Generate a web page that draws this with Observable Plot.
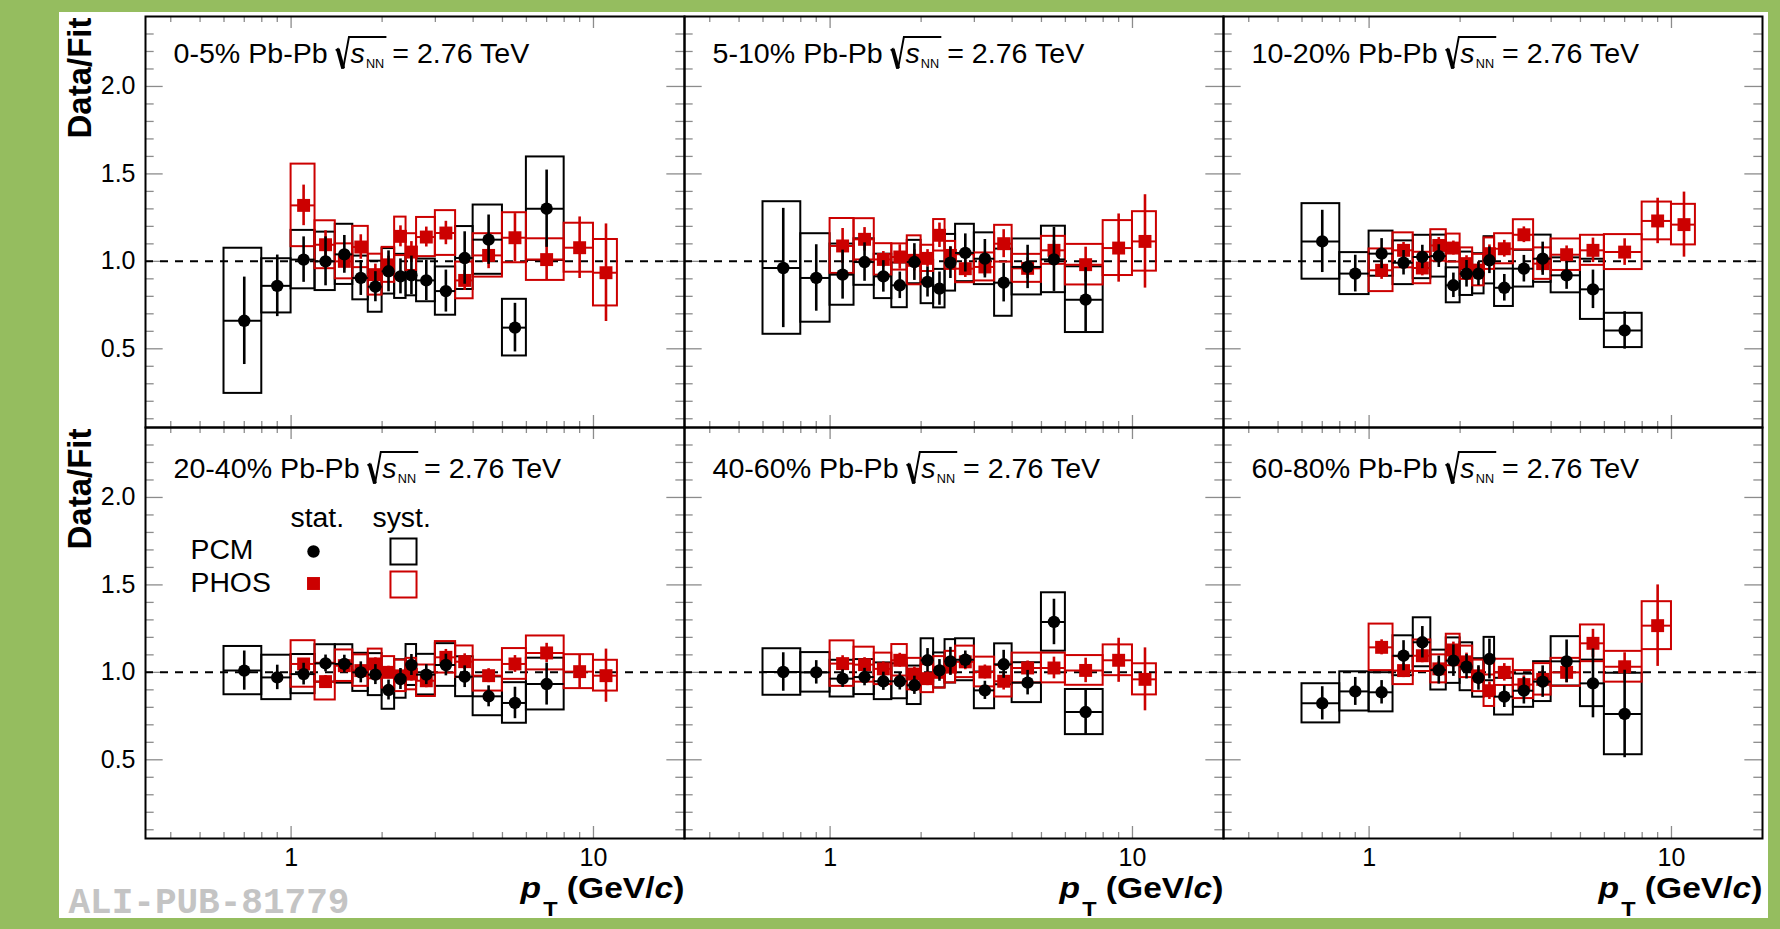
<!DOCTYPE html>
<html><head><meta charset="utf-8">
<script src="https://cdn.jsdelivr.net/npm/d3@7"></script>
<script src="https://cdn.jsdelivr.net/npm/@observablehq/plot@0.6"></script>
<style>
html,body{margin:0;padding:0;background:#95bd5f;width:1780px;height:929px;overflow:hidden;}
#panel{position:absolute;left:59px;top:12px;width:1709px;height:906px;background:#fff;}
</style></head><body><div id="panel"></div>
<script>
// ---------------- data ----------------
const centralities = ["0-5%", "5-10%", "10-20%", "20-40%", "40-60%", "60-80%"];
const systemLabel = "Pb-Pb";
const energyLabel = "= 2.76 TeV";

const pcmBinLow  = [0.6, 0.8, 1.0, 1.2, 1.4, 1.6, 1.8, 2.0, 2.2, 2.4, 2.6, 3.0, 3.5, 4.0, 5.0, 6.0];
const pcmBinHigh = [0.8, 1.0, 1.2, 1.4, 1.6, 1.8, 2.0, 2.2, 2.4, 2.6, 3.0, 3.5, 4.0, 5.0, 6.0, 8.0];
const phosBinLow  = [1.0, 1.2, 1.4, 1.6, 1.8, 2.0, 2.2, 2.4, 2.6, 3.0, 3.5, 4.0, 5.0, 6.0, 8.0, 10.0];
const phosBinHigh = [1.2, 1.4, 1.6, 1.8, 2.0, 2.2, 2.4, 2.6, 3.0, 3.5, 4.0, 5.0, 6.0, 8.0, 10.0, 12.0];

// PCM Data/Fit per centrality (rows follow `centralities`)
const pcmRatio = [
  [0.66, 0.86, 1.01, 1.00, 1.04, 0.905, 0.855, 0.943, 0.914, 0.92, 0.891, 0.83, 1.019, 1.124, 0.621, 1.301],
  [0.962, 0.905, 0.924, 0.996, 0.914, 0.863, 0.996, 0.882, 0.844, 0.992, 1.048, 1.015, 0.878, 0.968, 1.011, 0.781],
  [1.114, 0.93, 1.044, 0.992, 1.025, 1.03, 0.863, 0.929, 0.929, 1.006, 0.849, 0.958, 1.015, 0.92, 0.84, 0.605],
  [1.01, 0.971, 0.99, 1.051, 1.048, 1.0, 0.987, 0.899, 0.962, 1.042, 0.987, 1.042, 0.975, 0.863, 0.825, 0.933],
  [1.002, 1.0, 0.964, 0.973, 0.949, 0.949, 0.926, 1.069, 1.011, 1.063, 1.072, 0.897, 1.046, 0.941, 1.288, 0.773],
  [0.823, 0.891, 0.886, 1.095, 1.172, 1.013, 1.067, 1.032, 0.968, 1.076, 0.861, 0.895, 0.947, 1.063, 0.937, 0.762]
];
const pcmStat = [
  [0.25, 0.176, 0.13, 0.14, 0.108, 0.1, 0.086, 0.117, 0.10, 0.11, 0.115, 0.12, 0.15, 0.141, 0.139, 0.221],
  [0.341, 0.19, 0.14, 0.11, 0.09, 0.076, 0.105, 0.086, 0.095, 0.09, 0.109, 0.11, 0.11, 0.124, 0.183, 0.183],
  [0.178, 0.105, 0.086, 0.07, 0.067, 0.065, 0.07, 0.076, 0.067, 0.076, 0.076, 0.076, 0.095, 0.08, 0.11, 0.107],
  [0.112, 0.07, 0.062, 0.048, 0.05, 0.06, 0.057, 0.057, 0.06, 0.06, 0.057, 0.062, 0.062, 0.06, 0.09, 0.12],
  [0.11, 0.067, 0.05, 0.05, 0.052, 0.05, 0.052, 0.067, 0.062, 0.08, 0.05, 0.052, 0.08, 0.07, 0.13, 0.127],
  [0.095, 0.08, 0.067, 0.086, 0.09, 0.08, 0.09, 0.07, 0.07, 0.114, 0.062, 0.076, 0.09, 0.122, 0.197, 0.25]
];
const pcmSyst = [
  [0.415, 0.155, 0.167, 0.167, 0.172, 0.125, 0.146, 0.13, 0.126, 0.117, 0.122, 0.138, 0.18, 0.198, 0.162, 0.296],
  [0.379, 0.253, 0.175, 0.133, 0.127, 0.128, 0.124, 0.124, 0.11, 0.162, 0.164, 0.148, 0.192, 0.16, 0.19, 0.188],
  [0.216, 0.12, 0.129, 0.125, 0.124, 0.12, 0.1, 0.124, 0.115, 0.135, 0.107, 0.105, 0.135, 0.1, 0.172, 0.098],
  [0.138, 0.127, 0.112, 0.107, 0.11, 0.109, 0.12, 0.11, 0.11, 0.117, 0.116, 0.122, 0.114, 0.111, 0.116, 0.148],
  [0.133, 0.113, 0.105, 0.1, 0.105, 0.1, 0.11, 0.123, 0.1, 0.124, 0.12, 0.105, 0.117, 0.114, 0.167, 0.129],
  [0.112, 0.112, 0.112, 0.114, 0.14, 0.114, 0.13, 0.137, 0.11, 0.124, 0.105, 0.095, 0.114, 0.141, 0.133, 0.233]
];

// PHOS Data/Fit per centrality
const phosRatio = [
  [1.32, 1.095, 1.0, 1.082, 0.924, 0.98, 1.143, 1.053, 1.139, 1.162, 0.891, 1.034, 1.135, 1.01, 1.078, 0.935],
  [1.088, 1.126, 1.011, 1.025, 1.006, 1.017, 1.149, 1.034, 0.958, 0.968, 1.101, 0.96, 1.063, 0.981, 1.076, 1.114],
  [0.949, 1.063, 0.962, 1.091, 1.076, 0.987, 0.95, 1.044, 1.072, 1.152, 0.987, 1.038, 1.063, 1.053, 1.231, 1.21],
  [1.048, 0.947, 1.038, 1.01, 1.048, 1.0, 0.98, 0.99, 0.952, 1.086, 1.061, 0.981, 1.048, 1.111, 1.004, 0.981],
  [1.05, 1.044, 1.02, 1.069, 0.99, 0.964, 1.0, 1.03, 1.06, 1.002, 0.949, 1.025, 1.025, 1.011, 1.069, 0.96],
  [1.143, 1.01, 1.095, 1.02, 1.128, 1.06, 0.98, 0.895, 1.0, 0.93, 0.96, 1.0, 1.166, 1.032, 1.267, null]
];
const phosStat = [
  [0.116, 0.08, 0.05, 0.07, 0.06, 0.05, 0.06, 0.06, 0.057, 0.067, 0.057, 0.076, 0.138, 0.114, 0.176, 0.279],
  [0.1, 0.067, 0.045, 0.07, 0.06, 0.05, 0.07, 0.05, 0.05, 0.05, 0.08, 0.06, 0.055, 0.1, 0.195, 0.267],
  [0.052, 0.045, 0.045, 0.045, 0.04, 0.045, 0.045, 0.05, 0.048, 0.045, 0.05, 0.05, 0.07, 0.076, 0.13, 0.186],
  [0.03, 0.035, 0.035, 0.035, 0.035, 0.035, 0.035, 0.04, 0.04, 0.045, 0.045, 0.04, 0.048, 0.055, 0.095, 0.152],
  [0.045, 0.04, 0.04, 0.04, 0.04, 0.04, 0.04, 0.045, 0.045, 0.04, 0.05, 0.04, 0.062, 0.07, 0.126, 0.18],
  [0.043, 0.04, 0.04, 0.04, 0.045, 0.05, 0.05, 0.05, 0.05, 0.05, 0.05, 0.06, 0.08, 0.08, 0.233, null]
];
const phosSyst = [
  [0.236, 0.137, 0.1, 0.118, 0.117, 0.1, 0.11, 0.105, 0.112, 0.128, 0.105, 0.124, 0.143, 0.119, 0.14, 0.19],
  [0.157, 0.118, 0.09, 0.075, 0.14, 0.075, 0.09, 0.08, 0.08, 0.08, 0.105, 0.08, 0.08, 0.116, 0.157, 0.17],
  [0.122, 0.1, 0.09, 0.09, 0.08, 0.09, 0.09, 0.09, 0.086, 0.086, 0.09, 0.09, 0.086, 0.1, 0.108, 0.116],
  [0.133, 0.105, 0.09, 0.09, 0.085, 0.09, 0.09, 0.09, 0.09, 0.09, 0.09, 0.088, 0.088, 0.097, 0.097, 0.088],
  [0.13, 0.1, 0.09, 0.09, 0.09, 0.08, 0.09, 0.09, 0.09, 0.085, 0.09, 0.085, 0.085, 0.085, 0.088, 0.089],
  [0.133, 0.08, 0.09, 0.08, 0.09, 0.09, 0.09, 0.09, 0.075, 0.08, 0.09, 0.08, 0.105, 0.088, 0.137, null]
];

const xTickLabels = [1, 10];
const xMinorTicks = [0.4, 0.5, 0.6, 0.7, 0.8, 0.9, 2, 3, 4, 5, 6, 7, 8, 9];
const yTickLabels = [0.5, 1.0, 1.5, 2.0];
const yMinorTicks = [0.1, 0.2, 0.3, 0.4, 0.6, 0.7, 0.8, 0.9, 1.1, 1.2, 1.3, 1.4, 1.6, 1.7, 1.8, 1.9, 2.1, 2.2, 2.3];
const xDomain = [0.33, 20];
const yDomain = [0.05, 2.4];
const legendHeader = ["stat.", "syst."];
const legendSeries = ["PCM", "PHOS"];
const yTitle = "Data/Fit";
const xTitle = "pT (GeV/c)";
const watermark = "ALI-PUB-81779";

// ---------------- layout / style ----------------
const W = 1709, H = 906, mL = 85, mT = 4, mR = 6, mB = 80;
const cellW = (W - mL - mR) / 3, cellH = (H - mT - mB) / 2;
const RED = "#cc0000";
const TICK = "#8c8c8c";
const FONT = "'Liberation Sans', Arial, Helvetica, sans-serif";

function buildRows(ratio, stat, syst, lo, hi) {
  const rows = [];
  centralities.forEach((c, i) => lo.forEach((l, j) => {
    const v = ratio[i][j];
    if (v == null) return;
    rows.push({col: i % 3, row: Math.floor(i / 3), lo: l, hi: hi[j], v, stat: stat[i][j], syst: syst[i][j]});
  }));
  return rows;
}
const pcm = buildRows(pcmRatio, pcmStat, pcmSyst, pcmBinLow, pcmBinHigh);
const phos = buildRows(phosRatio, phosStat, phosSyst, phosBinLow, phosBinHigh);
const mid = d => (d.lo + d.hi) / 2;

const titleRows = centralities.map((c, i) => ({col: i % 3, row: Math.floor(i / 3), label: `${c} ${systemLabel} √sNN ${energyLabel}`}));
const xLabelRows = [0, 1, 2].flatMap(col => xTickLabels.map(v => ({col, row: 1, v})));
const yLabelRows = [0, 1].flatMap(row => yTickLabels.map(v => ({col: 0, row, v})));
const yTitleRows = [{col: 0, row: 0}, {col: 0, row: 1}];
const xTitleRows = [0, 1, 2].map(col => ({col, row: 1}));
const L = [{col: 0, row: 1}];

function boxes(rows, color) {
  return Plot.rect(rows, {x1: "lo", x2: "hi", y1: d => d.v - d.syst, y2: d => d.v + d.syst,
    fx: "col", fy: "row", fill: "none", stroke: color, strokeWidth: 2});
}
function stats(rows, color, symbol, r) {
  return [
    Plot.ruleY(rows, {y: "v", x1: "lo", x2: "hi", fx: "col", fy: "row", stroke: color, strokeWidth: 2}),
    Plot.ruleX(rows, {x: mid, y1: d => d.v - d.stat, y2: d => d.v + d.stat, fx: "col", fy: "row", stroke: color, strokeWidth: 2.6}),
    Plot.dot(rows, {x: mid, y: "v", fx: "col", fy: "row", symbol, r, fill: color, stroke: "none"})
  ];
}
const lt = (text, dx, dy) => Plot.text(L, {text: () => text, fx: "col", fy: "row", frameAnchor: "top-left",
  dx, dy, lineAnchor: "bottom", textAnchor: "start", fontSize: 27});
const ld = (dx, dy, opts) => Plot.dot(L, {x: null, y: null, fx: "col", fy: "row", frameAnchor: "top-left", dx, dy, ...opts});

const chart = Plot.plot({
  width: W, height: H, marginLeft: mL, marginTop: mT, marginRight: mR, marginBottom: mB,
  x: {type: "log", domain: xDomain, axis: null},
  y: {domain: yDomain, axis: null},
  fx: {domain: [0, 1, 2], axis: null, padding: 0},
  fy: {domain: [0, 1], axis: null, padding: 0},
  style: {fontFamily: FONT, fontSize: "25px", background: "transparent", overflow: "visible", color: "black"},
  marks: [
    // inward ticks on all four sides of each pad
    Plot.tickX(xTickLabels, {x: d => d, insetTop: cellH - 12, stroke: TICK, strokeWidth: 1.3}),
    Plot.tickX(xTickLabels, {x: d => d, insetBottom: cellH - 12, stroke: TICK, strokeWidth: 1.3}),
    Plot.tickX(xMinorTicks, {x: d => d, insetTop: cellH - 6, stroke: TICK, strokeWidth: 1.3}),
    Plot.tickX(xMinorTicks, {x: d => d, insetBottom: cellH - 6, stroke: TICK, strokeWidth: 1.3}),
    Plot.tickY(yTickLabels, {y: d => d, insetRight: cellW - 18, stroke: TICK, strokeWidth: 1.3}),
    Plot.tickY(yTickLabels, {y: d => d, insetLeft: cellW - 18, stroke: TICK, strokeWidth: 1.3}),
    Plot.tickY(yMinorTicks, {y: d => d, insetRight: cellW - 9, stroke: TICK, strokeWidth: 1.3}),
    Plot.tickY(yMinorTicks, {y: d => d, insetLeft: cellW - 9, stroke: TICK, strokeWidth: 1.3}),
    // reference line
    Plot.ruleY([1], {stroke: "black", strokeWidth: 2, strokeDasharray: "8,7"}),
    // data
    boxes(pcm, "black"),
    boxes(phos, RED),
    ...stats(phos, RED, "square", 7.3),
    ...stats(pcm, "black", "circle", 6.2),
    // frames
    Plot.frame({stroke: "black", strokeWidth: 2}),
    // axis labels
    Plot.text(xLabelRows, {x: "v", text: d => String(d.v), fx: "col", fy: "row", frameAnchor: "bottom", lineAnchor: "top", dy: 10, fontSize: 25}),
    Plot.text(yLabelRows, {y: "v", text: d => d.v.toFixed(1), fx: "col", fy: "row", frameAnchor: "left", textAnchor: "end", dx: -10, fontSize: 25}),
    Plot.text(yTitleRows, {text: () => yTitle, fx: "col", fy: "row", frameAnchor: "top-left", rotate: -90, textAnchor: "end",
      dx: -78, dy: 1, fontWeight: "bold", fontSize: 33}),
    Plot.text(xTitleRows, {text: () => xTitle, fx: "col", fy: "row", frameAnchor: "bottom-right", textAnchor: "end",
      lineAnchor: "bottom", dy: 59, fontWeight: "bold", fontSize: 30}),
    // pad titles
    Plot.text(titleRows.filter(d => d.row === 0), {text: "label", fx: "col", fy: "row", frameAnchor: "top-left", dx: 28, dy: 46, lineAnchor: "bottom", fontSize: 27}),
    Plot.text(titleRows.filter(d => d.row === 1), {text: "label", fx: "col", fy: "row", frameAnchor: "top-left", dx: 28, dy: 50, lineAnchor: "bottom", fontSize: 27}),
    // legend
    lt(legendHeader[0], 145, 99),
    lt(legendHeader[1], 227, 99),
    lt(legendSeries[0], 45, 131),
    lt(legendSeries[1], 45, 164),
    ld(168, 124, {r: 6.2, fill: "black", symbol: "circle"}),
    ld(168, 156, {r: 7.3, fill: RED, symbol: "square"}),
    ld(258, 124, {r: 14.7, fill: "none", stroke: "black", strokeWidth: 2, symbol: "square"}),
    ld(258, 157, {r: 14.7, fill: "none", stroke: RED, strokeWidth: 2, symbol: "square"}),
    // watermark
    Plot.text(L, {text: () => watermark, fx: "col", fy: "row", frameAnchor: "bottom-left", textAnchor: "start", lineAnchor: "bottom",
      dx: -77, dy: 74, fontFamily: "'Liberation Mono', 'Courier New', monospace", fontWeight: "bold", fontSize: 36, fill: "#c4c4c4"})
  ]
});
document.getElementById("panel").appendChild(chart);

// ---------------- rich text (sub/superscripts, radical, glyph width) ----------------
const NS = "http://www.w3.org/2000/svg";
function tspan(parent, text, attrs = {}) {
  const t = document.createElementNS(NS, "tspan");
  for (const [k, v] of Object.entries(attrs)) t.setAttribute(k, v);
  t.textContent = text;
  parent.appendChild(t);
  return t;
}
function stretch(el, k) {
  let tr = el.getAttribute("transform");
  if (!tr) {
    const x = +el.getAttribute("x") || 0, y = +el.getAttribute("y") || 0;
    el.removeAttribute("x"); el.removeAttribute("y");
    tr = `translate(${x},${y})`;
  }
  el.setAttribute("transform", `${tr} scale(${k},1)`);
}
function addPath(textEl, d, width) {
  const p = document.createElementNS(NS, "path");
  p.setAttribute("d", d);
  p.setAttribute("fill", "none");
  p.setAttribute("stroke", "black");
  p.setAttribute("stroke-width", width);
  if (textEl.getAttribute("transform")) p.setAttribute("transform", textEl.getAttribute("transform"));
  textEl.parentNode.appendChild(p);
}
const legendWords = new Set([...legendHeader, ...legendSeries]);
d3.select(chart).selectAll("text").each(function() {
  const s = this.textContent;
  if (s.includes("√sNN")) {
    const [pre, post] = s.split("√sNN");
    this.textContent = "";
    tspan(this, pre);
    tspan(this, "s", {"font-style": "italic", dx: 14});
    tspan(this, "NN", {"font-size": "12px", dy: 5, dx: 1});
    tspan(this, post, {dy: -5});
    stretch(this, 1.06);
    try {
      const i = pre.length;
      const p0 = this.getStartPositionOfChar(i);
      const p1 = this.getEndPositionOfChar(i + 2);
      const b = p0.y, x = p0.x;
      addPath(this, `M${x - 14},${b - 12} L${x - 12},${b - 13.5} L${x - 7},${b + 6} L${x - 1.5},${b - 25.5} L${p1.x + 2},${b - 25.5}`, 1.8);
      addPath(this, `M${x - 12},${b - 13.5} L${x - 7},${b + 6}`, 3.6);
    } catch (e) {}
  } else if (s === xTitle) {
    this.textContent = "";
    tspan(this, "p", {"font-style": "italic"});
    tspan(this, "T", {"font-size": "21px", dy: 19, dx: 2});
    tspan(this, " (GeV/", {dy: -19});
    tspan(this, "c", {"font-style": "italic"});
    tspan(this, ")");
    stretch(this, 1.12);
  } else if (legendWords.has(s)) {
    stretch(this, 1.05);
  }
});
</script></body></html>
